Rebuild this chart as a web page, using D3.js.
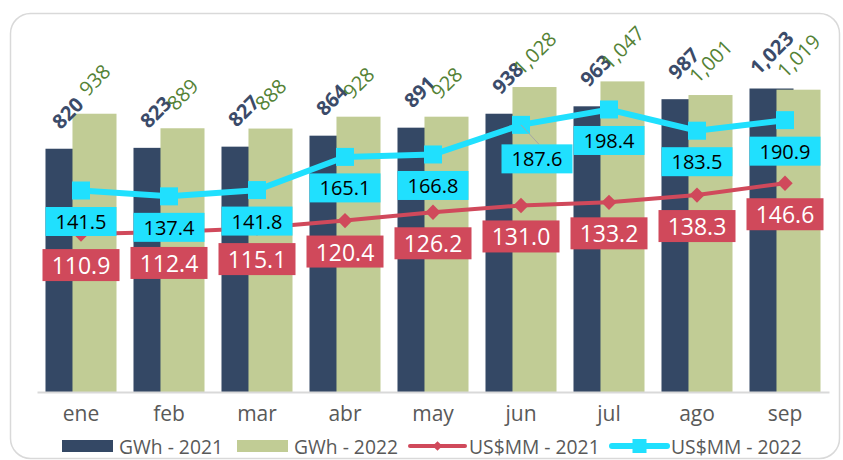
<!DOCTYPE html>
<html>
<head>
<meta charset="utf-8">
<script src="https://cdn.jsdelivr.net/npm/d3@7"></script>
<style>
  body { margin: 0; background: #fff; }
  svg { display: block; font-family: "Open Sans", "Noto Sans", sans-serif; }
</style>
</head>
<body>
<div id="chart"></div>
<script>
const months = ["ene", "feb", "mar", "abr", "may", "jun", "jul", "ago", "sep"];
const gwh2021 = [820, 823, 827, 864, 891, 938, 963, 987, 1023];
const gwh2022 = [938, 889, 888, 928, 928, 1028, 1047, 1001, 1019];
const usd2021 = [110.9, 112.4, 115.1, 120.4, 126.2, 131.0, 133.2, 138.3, 146.6];
const usd2022 = [141.5, 137.4, 141.8, 165.1, 166.8, 187.6, 198.4, 183.5, 190.9];
const legendLabels = ["GWh - 2021", "GWh - 2022", "US$MM - 2021", "US$MM - 2022"];

const width = 843, height = 460;
const margin = {top: 36, right: 14, bottom: 68, left: 37};

const colors = {dark: "#344865", light: "#c1cc95", red: "#d0495b", cyan: "#20e0fe",
  darkText: "#3b4b69", greenText: "#548235", axisText: "#595959"};

const x = d3.scaleBand().domain(months)
  .range([margin.left, width - margin.right])
  .paddingInner(0.193).paddingOuter(0.0965);
const y = d3.scaleLinear().domain([0, 1200]).range([height - margin.bottom, margin.top]);
const y2 = d3.scaleLinear().domain([0, 250]).range([height - margin.bottom, margin.top]);

const barW = x.bandwidth() * 0.62;
const cx = m => x(m) + x.bandwidth() / 2;

const svg = d3.select("#chart").append("svg")
  .attr("width", width).attr("height", height)
  .attr("viewBox", [0, 0, width, height]);

// frame
svg.append("rect")
  .attr("x", 10.5).attr("y", 13.5).attr("width", 829).attr("height", 445)
  .attr("rx", 20).attr("fill", "#fff").attr("stroke", "#d9d9d9").attr("stroke-width", 1.5);

// bars: 2021 sits behind, 2022 overlaps on the right
svg.append("g").attr("fill", colors.dark)
  .selectAll("rect").data(months).join("rect")
  .attr("x", m => x(m))
  .attr("y", (m, i) => y(gwh2021[i]))
  .attr("width", barW)
  .attr("height", (m, i) => y(0) - y(gwh2021[i]));

svg.append("g").attr("fill", colors.light)
  .selectAll("rect").data(months).join("rect")
  .attr("x", m => x(m) + x.bandwidth() - barW)
  .attr("y", (m, i) => y(gwh2022[i]))
  .attr("width", barW)
  .attr("height", (m, i) => y(0) - y(gwh2022[i]));

// x axis
const xAxis = g => g.attr("transform", `translate(0,${y(0)})`)
  .call(d3.axisBottom(x).tickSize(0).tickPadding(14))
  .call(g => g.select(".domain").attr("stroke", "#d9d9d9").attr("stroke-width", 2))
  .call(g => g.selectAll("text").attr("fill", colors.axisText)
    .attr("font-size", 21).attr("font-family", "Open Sans"));
svg.append("g").call(xAxis);

// bar labels, rotated
const fmt = d3.format(",");
svg.append("g").selectAll("text").data(months).join("text")
  .attr("transform", (m, i) => `translate(${x(m) + barW / 2},${y(gwh2021[i]) - 36}) rotate(-45)`)
  .attr("text-anchor", "middle").attr("dominant-baseline", "central")
  .attr("font-size", 20).attr("font-weight", "bold").attr("fill", colors.darkText)
  .text((m, i) => fmt(gwh2021[i]));

svg.append("g").selectAll("text").data(months).join("text")
  .attr("transform", (m, i) => `translate(${x(m) + x.bandwidth() - barW / 2},${y(gwh2022[i]) - 34}) rotate(-45)`)
  .attr("text-anchor", "middle").attr("dominant-baseline", "central")
  .attr("font-size", 20).attr("fill", colors.greenText)
  .text((m, i) => fmt(gwh2022[i]));

// lines
const line = vals => d3.line().x((m) => cx(m)).y((m, i) => y2(vals[i]))(months);

svg.append("path").attr("d", line(usd2021))
  .attr("fill", "none").attr("stroke", colors.red).attr("stroke-width", 4);
svg.append("g").attr("fill", colors.red)
  .selectAll("path").data(months).join("path")
  .attr("d", d3.symbol(d3.symbolDiamond2, 150))
  .attr("transform", (m, i) => `translate(${cx(m)},${y2(usd2021[i])})`);

svg.append("path").attr("d", line(usd2022))
  .attr("fill", "none").attr("stroke", colors.cyan).attr("stroke-width", 6);
svg.append("g").attr("fill", colors.cyan)
  .selectAll("rect").data(months).join("rect")
  .attr("x", m => cx(m) - 9)
  .attr("y", (m, i) => y2(usd2022[i]) - 9)
  .attr("width", 18).attr("height", 18);

// line labels
const fmt1 = d3.format(".1f");

function boxLabels(vals, opts) {
  const g = svg.append("g");
  months.forEach((m, i) => {
    const sx = i === opts.movedIndex ? 16 : 0;
    const sy = i === opts.movedIndex ? 3 : 0;
    const px = cx(m), py = y2(vals[i]);
    const lx = px + sx, ly = py + opts.dy + sy;
    if (sx) {
      g.append("line").attr("x1", px).attr("y1", py)
        .attr("x2", lx + 2).attr("y2", ly - opts.h / 2)
        .attr("stroke", "#a6a6a6").attr("stroke-width", 1);
    }
    g.append("rect")
      .attr("x", lx - opts.w / 2).attr("y", ly - opts.h / 2)
      .attr("width", opts.w).attr("height", opts.h)
      .attr("fill", opts.fill);
    g.append("text")
      .attr("x", lx).attr("y", ly)
      .attr("text-anchor", "middle").attr("dominant-baseline", "central")
      .attr("font-size", opts.size).attr("fill", opts.color)
      .text(fmt1(vals[i]));
  });
}

boxLabels(usd2021, {dy: 31, w: 77, h: 32, fill: colors.red, color: "#fff", size: 23});
boxLabels(usd2022, {dy: 31, w: 71, h: 29, fill: colors.cyan, color: "#000", size: 20, movedIndex: 5});

// legend
const legend = svg.append("g").attr("font-size", 19.3).attr("fill", colors.axisText);
const legendX = [62, 237, 410, 612];
const legendY = 446;
legendLabels.forEach((label, i) => {
  const lx = legendX[i];
  if (i < 2) {
    legend.append("rect").attr("x", lx).attr("y", legendY - 6)
      .attr("width", 51).attr("height", 12)
      .attr("fill", i === 0 ? colors.dark : colors.light);
  } else {
    const c = i === 2 ? colors.red : colors.cyan;
    legend.append("line").attr("x1", lx).attr("x2", lx + 55)
      .attr("y1", legendY).attr("y2", legendY)
      .attr("stroke", c).attr("stroke-width", i === 2 ? 4 : 6).attr("stroke-linecap", "round");
    if (i === 2) {
      legend.append("path").attr("d", d3.symbol(d3.symbolDiamond2, 60))
        .attr("transform", `translate(${lx + 27.5},${legendY})`).attr("fill", c);
    } else {
      legend.append("rect").attr("x", lx + 27.5 - 7).attr("y", legendY - 7)
        .attr("width", 14).attr("height", 14).attr("fill", c);
    }
  }
  legend.append("text")
    .attr("x", lx + (i < 2 ? 57 : 59)).attr("y", legendY)
    .attr("dominant-baseline", "central")
    .text(label);
});
</script>
</body>
</html>
